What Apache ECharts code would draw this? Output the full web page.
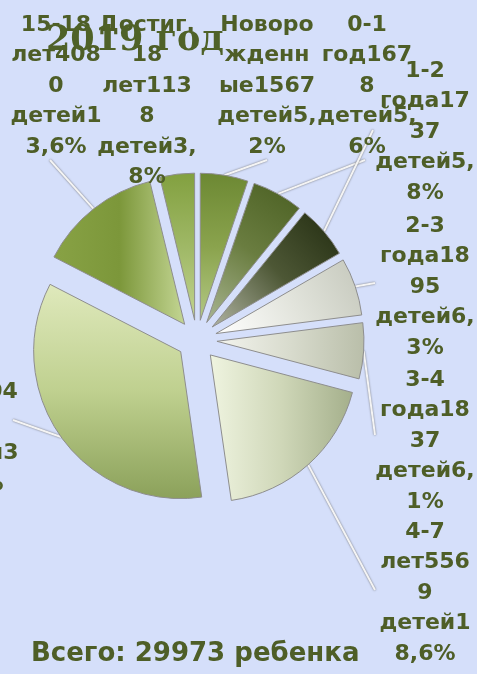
<!DOCTYPE html>
<html>
<head>
<meta charset="utf-8">
<script src="https://cdn.jsdelivr.net/npm/echarts@6/dist/echarts.min.js"></script>
<style>
  html, body { margin: 0; padding: 0; background: #d5dffa; }
  #chart { width: 477px; height: 674px; }
</style>
</head>
<body>
<div id="chart"></div>
<script>
// 2019 год - дети по возрастным группам
const categories = ['Новорожденные', '0-1 год', '1-2 года', '2-3 года', '3-4 года', '4-7 лет', '7-15 лет', '15-18 лет', 'Достиг. 18 лет'];
const values = [1567, 1678, 1737, 1895, 1837, 5569, 10431, 4080, 1138];
const labelTexts = [
    'Новоро\nжденн\nые1567\nдетей5,\n2%',
    '0-1\nгод167\n8\nдетей5,\n6%',
    '1-2\nгода17\n37\nдетей5,\n8%',
    '2-3\nгода18\n95\nдетей6,\n3%',
    '3-4\nгода18\n37\nдетей6,\n1%',
    '4-7\nлет556\n9\nдетей1\n8,6%',
    '7-15\nлет104\n31\nдетей3\n4,8%',
    '15-18\nлет408\n0\nдетей1\n3,6%',
    'Достиг.\n18\nлет113\n8\nдетей3,\n8%'
];
const titleText = '2019 год';
const totalText = 'Всего: 29973 ребенка';

// gradient for each slice: [x, y, x2, y2, stops]
const sliceColors = [
    [0, 0, 0, 1, ['#6c8833', '#8aa34d', '#b4c985']],
    [1, 0, 0, 1, ['#4a5f22', '#6a7d40', '#a9b592']],
    [1, 0, 0, 1, ['#222c10', '#4d5735', '#b0b4a2']],
    [1, 0, 0, 1, ['#c4c7bb', '#e2e4dc', '#ffffff']],
    [0, 0, 1, 0, ['#f3f4ee', '#d8dbcd', '#b9bea9']],
    [0, 0, 1, 0, ['#eff4e0', '#cfd7b8', '#a4af8b']],
    [0, 0, 0, 1, ['#dfe9bc', '#bfd08f', '#8ba15a']],
    [0, 0, 1, 0, ['#88a245', '#7c973a', '#c4d694']],
    [0, 0, 0, 1, ['#82a03f', '#9fb866', '#c2d48f']]
];

// label placement: [x, top, align, line end x, line end y]
const labelPos = [
    [267, 10, 'center', 267, 160],
    [367, 10, 'center', 365, 160],
    [425, 56, 'center', 373, 130],
    [425, 211, 'center', 375, 283],
    [425, 365, 'center', 375, 435],
    [425, 517, 'center', 375, 590],
    [-27, 347, 'center', 13, 420],
    [56, 10, 'center', 50, 160],
    [147, 10, 'center', null, null]
];

const pieCenter = [197, 340];
const pieRadius = 147;
const explode = 20;

const chart = echarts.init(document.getElementById('chart'));

const sliceData = categories.map((name, i) => {
    const c = sliceColors[i];
    return {
        name: name,
        value: values[i],
        selected: true,
        itemStyle: {
            color: {
                type: 'linear',
                x: c[0], y: c[1], x2: c[2], y2: c[3],
                colorStops: [
                    { offset: 0, color: c[4][0] },
                    { offset: 0.5, color: c[4][1] },
                    { offset: 1, color: c[4][2] }
                ]
            }
        }
    };
});

const labelData = categories.map((name, i) => ({
    name: name,
    value: values[i],
    labelLine: { show: labelPos[i][3] != null }
}));

chart.setOption({
    backgroundColor: '#d5dffa',
    animation: false,
    title: [
        {
            text: titleText,
            left: 46,
            top: 23,
            padding: 0,
            textStyle: {
                fontFamily: 'DejaVu Serif',
                fontWeight: 'bold',
                fontSize: 35,
                color: '#4f6228'
            }
        },
        {
            text: totalText,
            left: 31,
            top: 641,
            padding: 0,
            textStyle: {
                fontFamily: 'DejaVu Sans',
                fontWeight: 'bold',
                fontSize: 26,
                color: '#4e5e27'
            }
        }
    ],
    series: [
        {
            // exploded slices
            type: 'pie',
            center: pieCenter,
            radius: pieRadius,
            startAngle: 90,
            selectedMode: 'multiple',
            selectedOffset: explode,
            emphasis: { disabled: true },
            itemStyle: {
                borderColor: '#8e8e8e',
                borderWidth: 1
            },
            label: { show: false },
            labelLine: { show: false },
            data: sliceData
        },
        {
            // invisible ring used only to place the labels and leader lines
            type: 'pie',
            center: pieCenter,
            radius: pieRadius + explode,
            startAngle: 90,
            silent: true,
            avoidLabelOverlap: false,
            emphasis: { disabled: true },
            itemStyle: { color: 'rgba(0,0,0,0)', borderWidth: 0 },
            label: {
                show: true,
                position: 'outside',
                formatter: p => labelTexts[p.dataIndex],
                fontFamily: 'DejaVu Sans',
                fontWeight: 'bold',
                fontSize: 22,
                lineHeight: 30.5,
                color: '#4e5e27'
            },
            labelLine: {
                show: true,
                lineStyle: {
                    color: '#f4f4f4',
                    width: 2,
                    shadowColor: 'rgba(80,80,80,0.8)',
                    shadowBlur: 2
                }
            },
            labelLayout: function (params) {
                const pos = labelPos[params.dataIndex];
                const res = {
                    x: pos[0],
                    y: pos[1],
                    align: pos[2],
                    verticalAlign: 'top'
                };
                if (pos[3] != null && params.labelLinePoints) {
                    const start = params.labelLinePoints[0];
                    res.labelLinePoints = [start, [pos[3], pos[4]], [pos[3], pos[4]]];
                }
                return res;
            },
            data: labelData
        }
    ]
});
</script>
</body>
</html>
